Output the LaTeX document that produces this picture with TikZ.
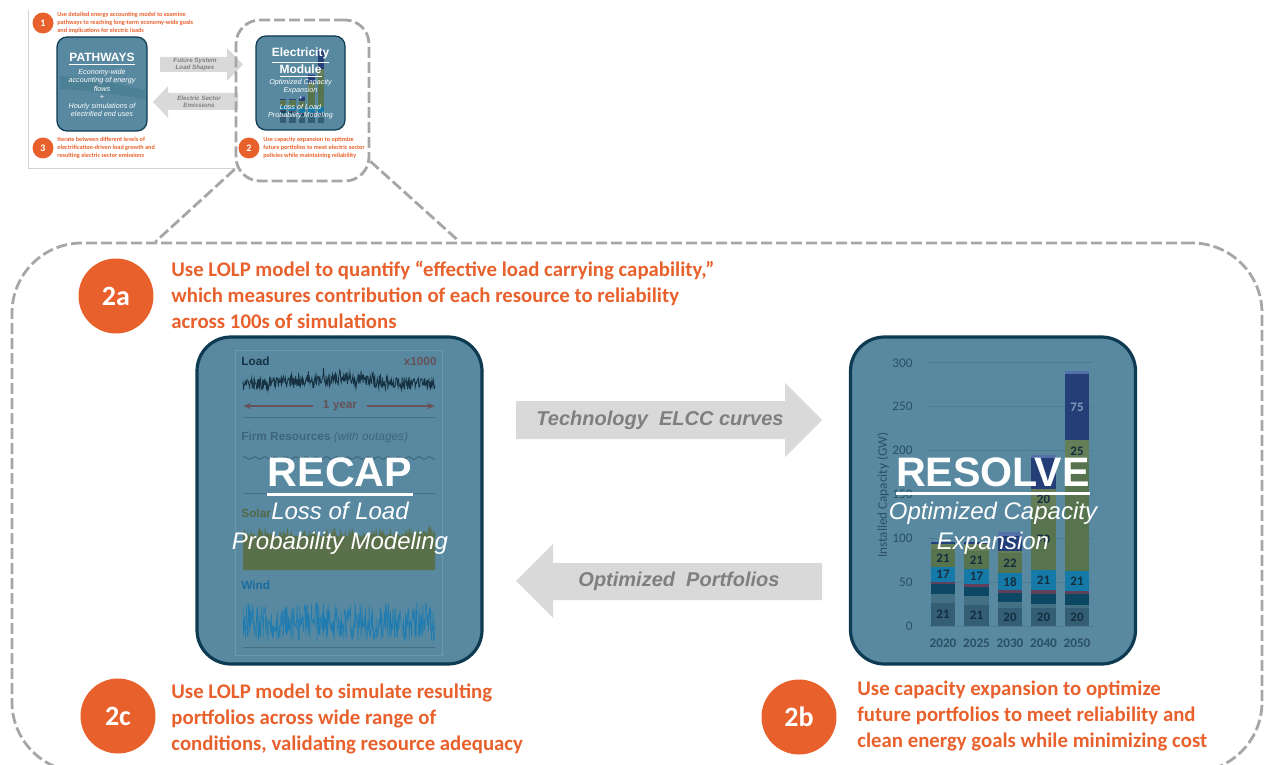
\documentclass[tikz,border=0pt]{standalone}
\usepackage{fontspec}
\setmainfont{Liberation Sans}
\newfontfamily\calib{Carlito}
\usetikzlibrary{positioning, calc, arrows.meta}

\definecolor{noteorange}{RGB}{232,97,44}
\definecolor{boxblue}{RGB}{88,137,160}
\definecolor{boxline}{RGB}{14,58,82}
\definecolor{arrowgray}{RGB}{217,217,217}
\definecolor{arrowtext}{RGB}{127,127,127}
\definecolor{dashgray}{RGB}{166,166,166}
\definecolor{framegray}{RGB}{210,210,210}
\definecolor{panelc}{RGB}{108,152,172}
\definecolor{sepc}{RGB}{72,112,132}
\definecolor{loadc}{RGB}{22,50,66}
\definecolor{yearc}{RGB}{102,82,88}
\definecolor{firmc}{RGB}{62,102,122}
\definecolor{solartxt}{RGB}{82,104,68}
\definecolor{solarc}{RGB}{90,112,74}
\definecolor{windtxt}{RGB}{26,108,158}
\definecolor{windc}{RGB}{32,124,176}
\definecolor{gridc}{RGB}{78,124,146}
\definecolor{axistext}{RGB}{42,80,100}
\definecolor{barlabelc}{RGB}{20,46,64}
\definecolor{barslate}{RGB}{52,94,116}
\definecolor{barslatel}{RGB}{68,112,132}
\definecolor{barnavy}{RGB}{12,72,100}
\definecolor{barmaroon}{RGB}{96,64,90}
\definecolor{barblue}{RGB}{22,122,168}
\definecolor{bargreen}{RGB}{88,116,78}
\definecolor{bargreenl}{RGB}{100,126,88}
\definecolor{bardark}{RGB}{36,62,120}
\definecolor{barbluel}{RGB}{84,112,170}
\definecolor{pathband}{RGB}{76,128,148}

% stacked capacity bars, #1 = half bar width
\newcommand{\capbars}[1]{%
  \foreach \i/\lo/\hi/\segcol in {%
    0/0/26/barslate, 0/26/37/barslatel, 0/37/48/barnavy, 0/48/50/barmaroon, 0/50/67/barblue, 0/67/88/bargreen, 0/88/93/bargreenl, 0/93/96/bardark,
    1/0/24/barslate, 1/24/34/barslatel, 1/34/45/barnavy, 1/45/48/barmaroon, 1/48/65/barblue, 1/65/86/bargreen, 1/86/93/bargreenl, 1/93/96/bardark,
    2/0/20/barslate, 2/20/27/barslatel, 2/27/38/barnavy, 2/38/41/barmaroon, 2/41/60/barblue, 2/60/83/bargreen, 2/83/86/bargreenl, 2/86/103/bardark, 2/103/107/barbluel,
    3/0/20/barslate, 3/20/25/barslatel, 3/25/37/barnavy, 3/37/41/barmaroon, 3/41/64/barblue, 3/64/134/bargreen, 3/134/156/bargreenl, 3/156/192/bardark, 3/192/195/barbluel,
    4/0/20/barslate, 4/20/24/barslatel, 4/24/36/barnavy, 4/36/40/barmaroon, 4/40/63/barblue, 4/63/187/bargreen, 4/187/212/bargreenl, 4/212/287/bardark, 4/287/291/barbluel}
    \fill[\segcol] (\i-#1,\lo) rectangle (\i+#1,\hi);%
}

\tikzset{
  bigbox/.style={draw=boxline, line width=1.6pt, fill=boxblue, rounded corners=17pt, minimum width=142.5pt, minimum height=163.5pt},
  smallbox/.style={draw=boxline, line width=0.6pt, fill=boxblue, rounded corners=5pt},
  dashframe/.style={draw=dashgray, line width=1.4pt, dash pattern=on 5.5pt off 2pt},
  bignum/.style={circle, fill=noteorange, text=white, minimum size=37.5pt, inner sep=0pt, font=\calib\bfseries\fontsize{14}{16}\selectfont},
  smallnum/.style={circle, fill=noteorange, text=white, minimum size=10.5pt, inner sep=0pt, font=\calib\bfseries\fontsize{5}{5}\selectfont},
  bignote/.style={anchor=west, align=left, inner sep=0pt, text=noteorange, font=\calib\bfseries\fontsize{10.4}{13}\selectfont},
  smallnote/.style={anchor=west, align=left, inner sep=0pt, text=noteorange, font=\calib\bfseries\fontsize{3.1}{4}\selectfont},
  blockarrow/.style={fill=arrowgray},
  arrowlabel/.style={text=arrowtext, inner sep=0pt, font=\bfseries\itshape\fontsize{10}{12}\selectfont},
  smallarrowlabel/.style={text=arrowtext, align=center, inner sep=0pt, font=\bfseries\itshape\fontsize{3.1}{3.6}\selectfont},
  bigtitle/.style={text=white, inner sep=0pt, font=\bfseries\fontsize{20.6}{24}\selectfont},
  bigsub/.style={text=white, align=center, inner sep=0pt, font=\itshape\fontsize{12}{15}\selectfont},
  smalltitle/.style={text=white, align=center, inner sep=0pt, font=\bfseries\fontsize{6}{7.5}\selectfont},
  smallsub/.style={text=white, align=center, inner sep=0pt, font=\itshape\fontsize{3.6}{4.2}\selectfont},
  chartlabel/.style={inner sep=0pt, font=\bfseries\fontsize{5.9}{7}\selectfont},
  barlabel/.style={text=barlabelc, inner sep=0pt, font=\calib\bfseries\fontsize{6.5}{7}\selectfont},
  axislabel/.style={text=axistext, inner sep=0pt, font=\calib\fontsize{6.6}{7}\selectfont},
}

\begin{document}
\begin{tikzpicture}[x=0.5pt, y=-0.5pt]
  \useasboundingbox (0,0) rectangle (1264,765);

  % overview thumbnail
  \draw[framegray, line width=0.5pt] (28,10) -- (28,169) -- (236,169);
  \node[smallnum] (n1) at (43,23) {1};
  \node[smallnote] (note1) at (57,23) {Use detailed energy accounting model to examine\\pathways to reaching long-term economy-wide goals\\and implications for electric loads};
  \node[smallbox, minimum width=45pt, minimum height=47pt] (pathways) at (102,84) {};
  \fill[pathband] (60,76) .. controls (95,78) and (120,85) .. (145,90) -- (145,99) .. controls (120,95) and (95,91) .. (60,89) -- cycle;
  \node[smalltitle] (pathtitle) at (102,59) {\underline{PATHWAYS}};
  \node[smallsub] (pathsub) at (102,93) {Economy-wide\\accounting of energy\\flows\\+\\Hourly simulations of\\electrified end uses};
  \node[smallnum] (n3) at (43,148) {3};
  \node[smallnote] (note3) at (57,148) {Iterate between different levels of\\electrification-driven load growth and\\resulting electric sector emissions};

  \fill[blockarrow] (160,57) -- (227,57) -- (227,48) -- (243,64.5) -- (227,81) -- (227,72) -- (160,72) -- cycle;
  \node[smallarrowlabel] (futurelbl) at (195,64.5) {Future System\\Load Shapes};
  \fill[blockarrow] (238,93) -- (168,93) -- (168,86) -- (153,102) -- (168,118) -- (168,110) -- (238,110) -- cycle;
  \node[smallarrowlabel] (emislbl) at (199,101.5) {Electric Sector\\Emissions};

  \node[smallbox, minimum width=44.5pt, minimum height=47pt] (elecbox) at (300.5,83) {};
  \begin{scope}[shift={(283,123)}, x=4.75pt, y=0.1267pt]
    \capbars{0.36}
  \end{scope}
  \node[smalltitle] (electitle) at (300.5,63) {\underline{Electricity}\\\underline{Module}};
  \node[smallsub] (elecsub) at (300.5,99) {Optimized Capacity\\Expansion\\+\\Loss of Load\\Probability Modeling};
  \node[smallnum] (n2) at (249,148) {2};
  \node[smallnote] (note2) at (263,148) {Use capacity expansion to optimize\\future portfolios to meet electric sector\\policies while maintaining reliability};

  \node[dashframe, rounded corners=12pt, minimum width=66.5pt, minimum height=80.5pt] (elecframe) at (302.5,100.5) {};

  % zoomed electricity module
  \node[dashframe, rounded corners=35pt, minimum width=625pt, minimum height=264.5pt] (bigframe) at (637,507.5) {};
  \draw[dashframe] ([yshift=6.5pt]elecframe.south west) -- ([xshift=72.5pt]bigframe.north west);
  \draw[dashframe] ([yshift=10.5pt]elecframe.south east) -- ([xshift=-402pt]bigframe.north east);

  \node[bignum] (n2a) at (116,296) {2a};
  \node[bignote] (note2a) at (171,295) {Use LOLP model to quantify “effective load carrying capability,”\\which measures contribution of each resource to reliability\\across 100s of simulations};
  \node[bignum] (n2c) at (118,716) {2c};
  \node[bignote] (note2c) at (171,719) {Use LOLP model to simulate resulting\\portfolios across wide range of\\conditions, validating resource adequacy};
  \node[bignum] (n2b) at (799,717) {2b};
  \node[bignote] (note2b) at (857,716) {Use capacity expansion to optimize\\future portfolios to meet reliability and\\clean energy goals while minimizing cost};

  % RECAP
  \node[bigbox] (recap) at (339.5,500.5) {};
  \draw[panelc, line width=0.4pt] (235,350) rectangle (442,655);
  \foreach \sy in {417,493,647}
    \draw[sepc, line width=0.5pt] (243,\sy) -- (435,\sy);
  \node[chartlabel, text=loadc, anchor=west] (loadlbl) at (241,361) {Load};
  \node[chartlabel, text=yearc, anchor=east] (scalelbl) at (437,361) {x1000};
  \pgfmathsetseed{12}
  \draw[loadc, line width=0.4pt] plot[domain=243:435, samples=380] (\x,{384+6*rand-11*rnd*exp(0-((\x-335)/50)^2)});
  \node[chartlabel, text=yearc] (yearlbl) at (340,406) {1 year};
  \draw[yearc, line width=1pt, -{Stealth[length=4pt]}] ([xshift=-5pt]yearlbl.west) -- (243,406);
  \draw[yearc, line width=1pt, -{Stealth[length=4pt]}] ([xshift=5pt]yearlbl.east) -- (435,406);
  \node[chartlabel, text=firmc, anchor=west] (firmlbl) at (241,437) {Firm Resources \textit{\mdseries(with outages)}};
  \draw[firmc, line width=0.5pt] plot[domain=243:435, samples=120] (\x,{458+1.3*sin(\x*35)});
  \node[chartlabel, text=solartxt, anchor=west] (solarlbl) at (241,513) {Solar};
  \fill[solarc] (243,570) -- plot[domain=243:435, samples=200] (\x,{537-13*rnd*rnd}) -- (435,570) -- cycle;
  \node[chartlabel, text=windtxt, anchor=west] (windlbl) at (241,585) {Wind};
  \draw[windc, line width=0.3pt] plot[domain=243:435, samples=380] (\x,{622+19*rand});
  \node[bigtitle] (recaptitle) at (340,472.5) {RECAP};
  \draw[white, line width=1.5pt] ([yshift=-3.5pt]recaptitle.south west) -- ([yshift=-3.5pt]recaptitle.south east);
  \node[bigsub] (recapsub) at (340,528) {Loss of Load\\Probability Modeling};

  % RESOLVE
  \node[bigbox] (resolve) at (993,500.5) {};
  \begin{scope}[shift={(943,626)}, x=16.75pt, y=0.4385pt]
    \foreach \g in {0,50,...,300} {
      \draw[gridc, line width=0.4pt] (-0.48,\g) -- (4.48,\g);
      \node[axislabel, anchor=east] (tick\g) at (-0.9,\g) {\g};
    }
    \capbars{0.36}
    \foreach \i/\yr in {0/2020,1/2025,2/2030,3/2040,4/2050}
      \node[axislabel, font=\calib\bfseries\fontsize{6.6}{7}\selectfont] (year\yr) at (\i,-20) {\yr};
    \foreach \i/\my/\v in {0/13/21, 0/58.5/17, 0/77.5/21, 1/12/21, 1/56.5/17, 1/75.5/21,
        2/10/20, 2/50.5/18, 2/71.5/22, 3/10/20, 3/52.5/21, 3/99/70, 3/145/20,
        4/10/20, 4/51.5/21, 4/199.5/25}
      \node[barlabel] (bar\i-\v) at (\i,\my) {\v};
    \node[barlabel, text={rgb,255:red,125;green,155;blue,190}] (bar4-75) at (4,249.5) {75};
    \node[axislabel, rotate=90] (capaxis) at (-1.79,149) {Installed Capacity (GW)};
  \end{scope}
  \node[bigtitle] (resolvetitle) at (993,472) {RESOLVE};
  \draw[white, line width=1.5pt] ([yshift=-3.5pt]resolvetitle.south west) -- ([yshift=-3.5pt]resolvetitle.south east);
  \node[bigsub] (resolvesub) at (993,528) {Optimized Capacity\\Expansion};

  % exchanges between the models
  \fill[blockarrow] (516,401) -- (785,401) -- (785,383) -- (822,420) -- (785,457) -- (785,439) -- (516,439) -- cycle;
  \node[arrowlabel] (elcclbl) at (660,420) {Technology~ ELCC curves};
  \fill[blockarrow] (822,563) -- (553,563) -- (553,544) -- (516,581) -- (553,618) -- (553,600) -- (822,600) -- cycle;
  \node[arrowlabel] (portlbl) at (679,581) {Optimized~ Portfolios};
\end{tikzpicture}
\end{document}
